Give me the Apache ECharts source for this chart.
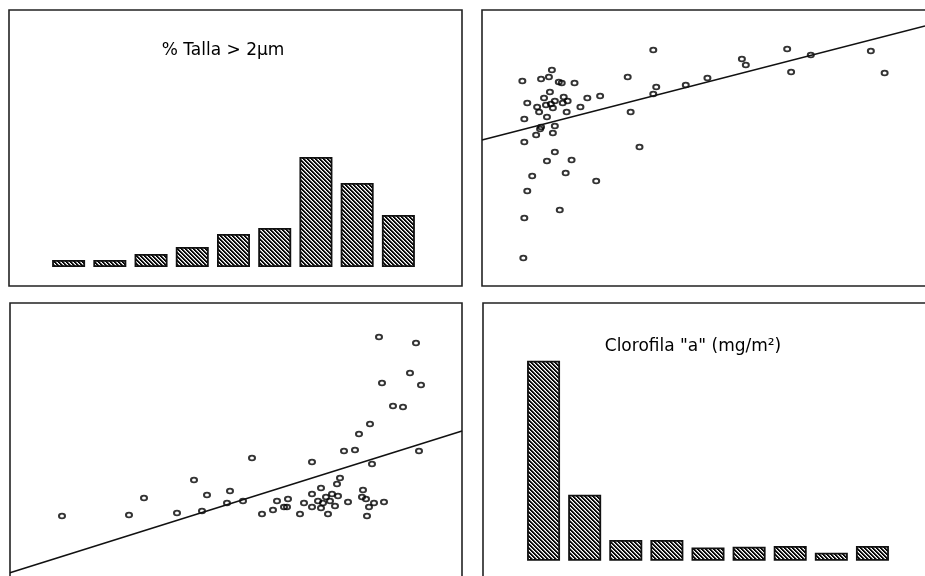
<!DOCTYPE html>
<html>
<head>
<meta charset="utf-8">
<script src="https://cdn.jsdelivr.net/npm/echarts@6/dist/echarts.min.js"></script>
<style>
  html, body { margin: 0; padding: 0; background: #fff; }
  #chart { width: 925px; height: 576px; }
</style>
</head>
<body>
<div id="chart"></div>
<script>
// --- Panel A: size fraction histogram (% Talla > 2 µm) ---
const tallaClasses = ['1', '2', '3', '4', '5', '6', '7', '8', '9'];
const tallaValues = [4.7, 4.7, 8.7, 13.3, 22.0, 26.0, 73.3, 56.0, 34.7];

// --- Panel B: scatter with linear fit ---
const scatterBX = [4.1, 6.0, 6.8, 7.1, 7.8, 8.1, 9.4, 4.6, 6.3, 6.9, 7.4, 8.3, 8.7, 8.2,
  5.6, 5.8, 6.5, 7.0, 7.2, 4.3, 6.6, 8.6, 10.0, 10.7, 12.0, 6.0, 5.9, 7.4, 5.5, 7.2,
  4.3, 7.4, 6.6, 9.1, 8.5, 5.1, 4.6, 11.6, 7.9, 4.3, 4.2, 14.8, 17.4, 17.7, 17.4,
  15.1, 16.0, 20.7, 22.9, 26.4, 26.8, 31.0, 31.4, 33.4, 39.5, 40.9];
const scatterBY = [20.5, 20.7, 20.9, 21.6, 20.4, 20.3, 20.3, 18.3, 18.8, 19.4, 18.5, 18.9, 18.5, 18.3,
  17.9, 17.4, 18.1, 18.2, 17.8, 16.7, 16.9, 17.4, 17.9, 18.8, 19.0, 15.9, 15.7, 16.0, 15.1, 15.3,
  14.4, 13.4, 12.5, 12.6, 11.3, 11.0, 9.5, 10.5, 7.6, 6.8, 2.8, 20.9, 23.6, 19.9, 19.2,
  17.4, 13.9, 20.1, 20.8, 22.7, 22.1, 23.7, 21.4, 23.1, 23.5, 21.3];
const fitBX = [0, 45];
const fitBY = [14.6, 26.0];

// --- Panel C: scatter with linear fit ---
const scatterCX = [5.2, 11.9, 13.4, 16.7, 18.4, 19.2, 19.7, 21.7, 22.0, 23.3, 24.2, 25.2, 26.3, 26.7,
  27.4, 27.8, 27.7, 29.0, 29.4, 30.2, 30.2, 30.2, 30.8, 31.1, 31.1, 31.3, 31.6, 31.8, 32.0,
  32.2, 32.5, 32.8, 32.7, 33.0, 33.4, 33.8, 34.5, 34.9, 35.3, 35.2, 35.6, 35.7, 35.9, 36.2,
  36.0, 36.4, 37.4, 36.9, 37.2, 38.3, 39.3, 40.0, 40.6, 41.1, 40.9];
const scatterCY = [6.0, 6.1, 7.8, 6.3, 9.6, 6.5, 8.1, 7.3, 8.5, 7.5, 11.8, 6.2, 6.6, 7.5,
  6.9, 7.7, 6.9, 6.2, 7.3, 8.2, 6.9, 11.4, 7.5, 8.8, 6.8, 7.3, 7.9, 6.2, 7.5,
  8.2, 7.0, 8.0, 9.2, 9.8, 12.5, 7.4, 12.6, 14.2, 8.6, 7.9, 7.7, 6.0, 6.9, 11.2,
  15.2, 7.3, 7.4, 23.9, 19.3, 17.0, 16.9, 20.3, 23.3, 19.1, 12.5];
const fitCX = [0, 45.2];
const fitCY = [0.33, 14.5];

// --- Panel D: chlorophyll histogram (Clorofila "a", mg/m²) ---
const cloroClasses = ['1', '2', '3', '4', '5', '6', '7', '8', '9'];
const cloroValues = [80.0, 26.4, 8.3, 8.3, 5.3, 5.6, 5.9, 3.2, 5.9];

// Diagonal hatch fill used for the histogram bars
function hatchPattern() {
  const c = document.createElement('canvas');
  c.width = 4; c.height = 4;
  const ctx = c.getContext('2d');
  const img = ctx.createImageData(4, 4);
  for (let y = 0; y < 4; y++) {
    for (let x = 0; x < 4; x++) {
      const d = ((x - y) % 4 + 4) % 4;
      const v = d === 0 || d === 1 ? 10 : (d === 2 ? 150 : 255);
      const i = (y * 4 + x) * 4;
      img.data[i] = v; img.data[i + 1] = v; img.data[i + 2] = v; img.data[i + 3] = 255;
    }
  }
  ctx.putImageData(img, 0, 0);
  return c;
}
const hatch = { image: hatchPattern(), repeat: 'repeat' };

const zip = (xs, ys) => xs.map((x, i) => [x, ys[i]]);
const hiddenValue = (gi, min, max) => ({ type: 'value', gridIndex: gi, min, max, show: false, splitLine: { show: false } });
const hiddenCat = (gi, data) => ({ type: 'category', gridIndex: gi, data, show: false, axisTick: { show: false } });

const ring = 'path://M10,0A10,10,0,1,1,-10,0A10,10,0,1,1,10,0Z';
const scatterStyle = {
  symbol: ring,
  symbolSize: [6, 4.8],
  itemStyle: { color: 'rgba(0,0,0,0)', borderColor: '#000', borderWidth: 1.8 }
};
const fitStyle = { type: 'line', symbol: 'none', lineStyle: { color: '#111', width: 1.6 }, silent: true };
const barStyle = {
  type: 'bar',
  barWidth: 33,
  itemStyle: { color: hatch, borderColor: '#111', borderWidth: 1.8 }
};

const frame = (x, y, w, h) => ({
  type: 'rect',
  shape: { x, y, width: w, height: h },
  style: { fill: 'none', stroke: '#222', lineWidth: 1.6 },
  silent: true
});
const titleFont = '17px "DejaVu Sans", sans-serif';

const chart = echarts.init(document.getElementById('chart'), null, { renderer: 'canvas' });
chart.setOption({
  animation: false,
  backgroundColor: '#fff',
  grid: [
    { left: 48, top: 117, width: 371, height: 150 },
    { left: 482, top: 6, width: 450, height: 280 },
    { left: 10, top: 296, width: 452, height: 280 },
    { left: 523, top: 310.7, width: 370, height: 250 }
  ],
  xAxis: [
    hiddenCat(0, tallaClasses),
    hiddenValue(1, 0, 45),
    hiddenValue(2, 0, 45.2),
    hiddenCat(3, cloroClasses)
  ],
  yAxis: [
    hiddenValue(0, 0, 100),
    hiddenValue(1, 0, 28),
    hiddenValue(2, 0, 28),
    hiddenValue(3, 0, 100)
  ],
  series: [
    Object.assign({}, barStyle, { xAxisIndex: 0, yAxisIndex: 0, data: tallaValues }),
    Object.assign({ type: 'scatter', xAxisIndex: 1, yAxisIndex: 1, data: zip(scatterBX, scatterBY) }, scatterStyle),
    Object.assign({}, fitStyle, { xAxisIndex: 1, yAxisIndex: 1, data: zip(fitBX, fitBY) }),
    Object.assign({ type: 'scatter', xAxisIndex: 2, yAxisIndex: 2, data: zip(scatterCX, scatterCY) }, scatterStyle),
    Object.assign({}, fitStyle, { xAxisIndex: 2, yAxisIndex: 2, data: zip(fitCX, fitCY) }),
    Object.assign({}, barStyle, { xAxisIndex: 3, yAxisIndex: 3, data: cloroValues })
  ],
  graphic: [
    frame(9, 10, 453, 276),
    frame(482, 10, 460, 276),
    frame(10, 303, 452, 300),
    frame(483, 303, 460, 300),
    {
      type: 'text', x: 223, y: 51, silent: true,
      style: { text: '% Talla > 2µm', font: titleFont, fill: '#000', textAlign: 'center', textVerticalAlign: 'middle' }
    },
    {
      type: 'text', x: 693, y: 347, silent: true,
      style: { text: 'Clorofila "a" (mg/m²)', font: titleFont, fill: '#000', textAlign: 'center', textVerticalAlign: 'middle' }
    }
  ]
});
</script>
</body>
</html>
